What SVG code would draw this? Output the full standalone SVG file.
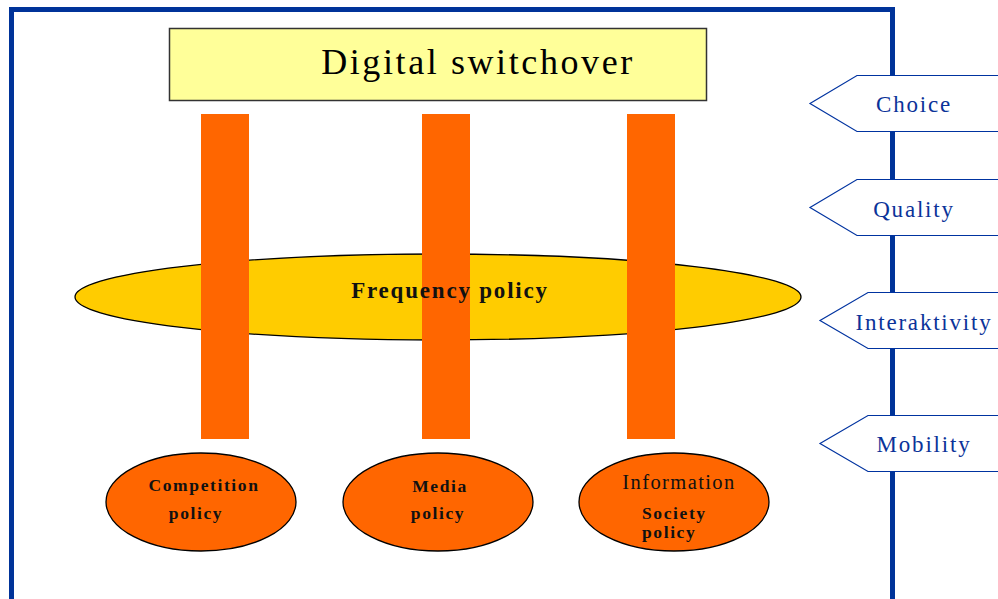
<svg xmlns="http://www.w3.org/2000/svg" width="998" height="599" viewBox="0 0 998 599">
<style>
.tag{fill:#fff;stroke:#0033a0;stroke-width:1.2}
.tagt{font-family:"Liberation Serif",serif;font-size:23px;fill:#0b3399;text-anchor:middle;letter-spacing:1.8px}
.bar{fill:#ff6600}
.pol{fill:#ff6600;stroke:#000;stroke-width:1.3}
.b{font-family:"Liberation Serif",serif;font-weight:bold;font-size:17.5px;fill:#111;letter-spacing:1.6px}
</style>
<rect width="998" height="599" fill="#fff"/>
<path d="M11.5 605 V9.5 H892.5 V605" fill="none" stroke="#003399" stroke-width="5"/>
<g id="title">
<rect x="169.5" y="28.5" width="537" height="72" fill="#ffff99" stroke="#333" stroke-width="1.5"/>
<text x="478" y="74" font-family="Liberation Serif,serif" font-size="36" text-anchor="middle" letter-spacing="2.6" fill="#000">Digital switchover</text>
</g>
<g id="frequency">
<ellipse cx="438" cy="297" rx="363" ry="43" fill="#ffcc00" stroke="#000" stroke-width="1.3"/>
</g>
<g id="connectors">
<rect class="bar" x="201" y="114" width="48" height="325"/>
<rect class="bar" x="422" y="114" width="48" height="325"/>
<rect class="bar" x="627" y="114" width="48" height="325"/>
</g>
<text x="450" y="298" font-family="Liberation Serif,serif" font-weight="bold" font-size="23" text-anchor="middle" letter-spacing="1.8" fill="#111">Frequency policy</text>
<g id="competition">
<ellipse class="pol" cx="201" cy="502" rx="95" ry="49"/>
<text class="b" x="204" y="491" text-anchor="middle">Competition</text>
<text class="b" x="196" y="519" text-anchor="middle">policy</text>
</g>
<g id="media">
<ellipse class="pol" cx="438" cy="502" rx="95" ry="49"/>
<text class="b" x="440" y="492" text-anchor="middle">Media</text>
<text class="b" x="438" y="519" text-anchor="middle">policy</text>
</g>
<g id="information">
<ellipse class="pol" cx="674" cy="502" rx="95" ry="49"/>
<text x="679" y="489" font-family="Liberation Serif,serif" font-size="20.5" text-anchor="middle" letter-spacing="1.4" fill="#111">Information</text>
<text class="b" x="642" y="519">Society</text>
<text class="b" x="642" y="538">policy</text>
</g>
<g id="choice">
<path class="tag" d="M1000 75.5 H857 L810 103.5 L857 131.5 H1000"/>
<text class="tagt" x="914" y="112">Choice</text>
</g>
<g id="quality">
<path class="tag" d="M1000 179.5 H857 L810 207.5 L857 235.5 H1000"/>
<text class="tagt" x="914" y="217">Quality</text>
</g>
<g id="interaktivity">
<path class="tag" d="M1000 292.5 H868 L820 320.5 L868 348.5 H1000"/>
<text class="tagt" x="924" y="330">Interaktivity</text>
</g>
<g id="mobility">
<path class="tag" d="M1000 415.5 H868 L820 443.5 L868 471.5 H1000"/>
<text class="tagt" x="924" y="452">Mobility</text>
</g>
</svg>
